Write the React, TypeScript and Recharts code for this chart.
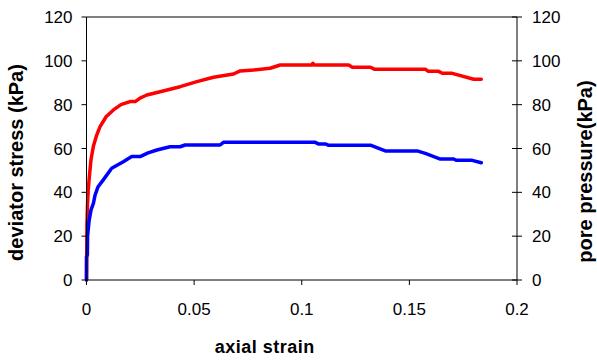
import React from 'react';
import { LineChart, Line, XAxis, YAxis, ReferenceLine, Label } from 'recharts';

// Deviator stress curve (kPa) against axial strain
const stressStrain = [
  0, 0.0001, 0.0002, 0.0005, 0.0008, 0.0014, 0.0021, 0.0032, 0.0047, 0.0063,
  0.0091, 0.0125, 0.016, 0.0202, 0.0226, 0.0249, 0.028, 0.0342, 0.0435, 0.0513,
  0.059, 0.0683, 0.0714, 0.0776, 0.0853, 0.09, 0.1047, 0.1052, 0.1058, 0.1218,
  0.1235, 0.1319, 0.1337, 0.1574, 0.1588, 0.1636, 0.1653, 0.1699, 0.1799, 0.1834,
];
const stressValues = [
  0, 12, 25, 35, 41, 48, 55, 61, 66, 70,
  74.5, 77.6, 80, 81.4, 81.4, 83, 84.4, 85.9, 88.2, 90.5,
  92.5, 94, 95.4, 95.8, 96.6, 98.1, 98.1, 98.9, 98.1, 98.1,
  97.1, 97.1, 96.2, 96.2, 95.2, 95.2, 94.3, 94.3, 91.6, 91.6,
];

// Pore pressure curve (kPa) against axial strain
const poreStrain = [
  0, 0, 0.0004, 0.0005, 0.0012, 0.0021, 0.0032, 0.004, 0.0053, 0.0078,
  0.0117, 0.0171, 0.021, 0.0249, 0.0286, 0.0327, 0.0388, 0.0435, 0.0458, 0.0621,
  0.0636, 0.1063, 0.1077, 0.1109, 0.1123, 0.1319, 0.1388, 0.1536, 0.1574, 0.1644,
  0.1706, 0.1719, 0.1792, 0.1834,
];
const poreValues = [
  0, 10.5, 11.5, 20, 27, 32, 35, 38.8, 42.4, 45.7,
  51, 54, 56.3, 56.3, 58, 59.3, 60.8, 60.8, 61.6, 61.6,
  62.8, 62.8, 62.1, 62.1, 61.5, 61.5, 58.9, 58.9, 57.8, 55.2,
  55.2, 54.6, 54.6, 53.5,
];

const strainTicks = [0, 0.05, 0.1, 0.15, 0.2];
const kpaTicks = [0, 20, 40, 60, 80, 100, 120];

const stressData = stressStrain.map((s, i) => ({ strain: s, stress: stressValues[i] }));
const poreData = poreStrain.map((s, i) => ({ strain: s, pore: poreValues[i] }));

const FONT = '"Liberation Sans", Arial, sans-serif';
const TICK_SIZE = 5;
const TICK_MARGIN = 10;

// Right-hand axis ticks cross the axis line on both sides
const CrossTick = (props: any) => {
  const { x, y, payload } = props;
  const axisX = x - TICK_SIZE - TICK_MARGIN;
  return (
    <g>
      <line x1={axisX - TICK_SIZE} x2={axisX + TICK_SIZE} y1={y} y2={y} stroke="#000" />
      <text x={x} y={y} dy="0.36em" textAnchor="start" fill="#000" fontSize={17} fontFamily={FONT}>
        {payload.value}
      </text>
    </g>
  );
};

export default function App() {
  return (
    <div style={{ position: 'absolute', left: 0, top: 0, background: '#fff' }}>
      <LineChart
        width={597}
        height={362}
        margin={{ top: 17, right: 0, bottom: 0, left: 0 }}
      >
        <XAxis
          dataKey="strain"
          type="number"
          domain={[0, 0.2]}
          ticks={strainTicks}
          allowDuplicatedCategory={false}
          height={82}
          stroke="#000"
          tickSize={5}
          tickMargin={18}
          tick={{ fill: '#000', fontSize: 17, fontFamily: FONT }}
        >
          <Label
            value="axial strain"
            position="center"
            dx={-37}
            dy={26}
            style={{ fontSize: 18, fontWeight: 'bold', fontFamily: FONT, fill: '#000', letterSpacing: 0.5 }}
          />
        </XAxis>
        <YAxis
          yAxisId="left"
          domain={[0, 120]}
          ticks={kpaTicks}
          width={86.5}
          stroke="#000"
          tickSize={5}
          tickMargin={9}
          tick={{ fill: '#000', fontSize: 17, fontFamily: FONT }}
        >
          <Label
            value="deviator stress (kPa)"
            angle={-90}
            position="center"
            dx={-27}
            dy={14}
            style={{ fontSize: 20, fontWeight: 'bold', fontFamily: FONT, fill: '#000', textAnchor: 'middle' }}
          />
        </YAxis>
        <YAxis
          yAxisId="right"
          orientation="right"
          domain={[0, 120]}
          ticks={kpaTicks}
          width={80}
          stroke="#000"
          tickLine={false}
          tickSize={TICK_SIZE}
          tickMargin={TICK_MARGIN}
          tick={<CrossTick />}
        >
          <Label
            value="pore pressure(kPa)"
            angle={-90}
            position="center"
            dx={28}
            dy={23}
            style={{ fontSize: 20, fontWeight: 'bold', fontFamily: FONT, fill: '#000', textAnchor: 'middle' }}
          />
        </YAxis>
        <ReferenceLine yAxisId="left" y={120} stroke="#000" strokeWidth={1} />
        <Line
          yAxisId="left"
          data={stressData}
          dataKey="stress"
          type="linear"
          stroke="#ff0000"
          strokeWidth={3.5}
          strokeLinejoin="round"
          strokeLinecap="round"
          dot={false}
          isAnimationActive={false}
        />
        <Line
          yAxisId="right"
          data={poreData}
          dataKey="pore"
          type="linear"
          stroke="#0000ff"
          strokeWidth={3.5}
          strokeLinejoin="round"
          strokeLinecap="round"
          dot={false}
          isAnimationActive={false}
        />
      </LineChart>
    </div>
  );
}
